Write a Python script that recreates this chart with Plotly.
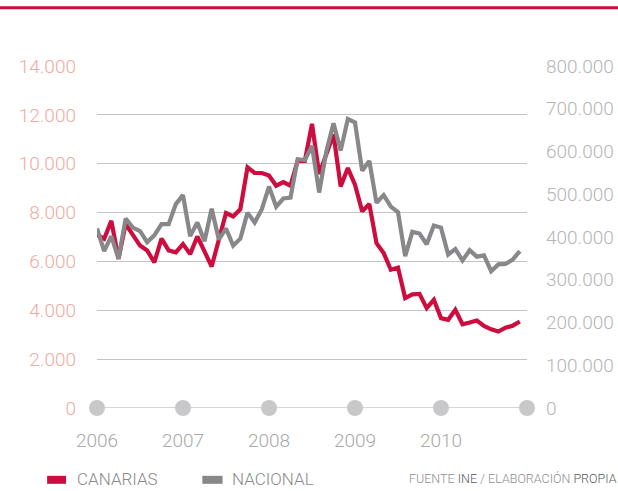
import plotly.graph_objects as go

# Monthly data, Jan 2006 - Dec 2010
months = [2006 + m / 12 for m in range(60)]

canarias = [7090, 6930, 7660, 6110, 7530, 7050, 6650, 6450, 5960, 6930, 6450, 6370,
            6710, 6300, 7020, 6410, 5790, 6890, 7980, 7840, 8140, 9850, 9620, 9620,
            9520, 9100, 9250, 9100, 10120, 10120, 11630, 9580, 10400, 11200, 9070, 9820,
            9140, 8050, 8350, 6750, 6340, 5660, 5750, 4500, 4650, 4670, 4090, 4430,
            3680, 3610, 4020, 3430, 3500, 3580, 3360, 3220, 3130, 3290, 3370, 3540]

nacional = [420000, 367000, 402000, 349000, 443000, 422000, 414000, 388000, 404000, 430000, 430000, 477000,
            498000, 402000, 434000, 390000, 466000, 394000, 420000, 380000, 396000, 457000, 434000, 465000,
            518000, 471000, 490000, 492000, 582000, 580000, 613000, 504000, 600000, 666000, 602000, 676000,
            668000, 555000, 578000, 480000, 498000, 471000, 458000, 355000, 412000, 408000, 383000, 427000,
            422000, 359000, 372000, 345000, 369000, 354000, 357000, 320000, 336000, 337000, 347000, 367000]

year_ticks = [2006, 2007, 2008, 2009, 2010]
year_labels = ["2006", "2007", "2008", "2009", "2010"]
dot_years = [2006, 2007, 2008, 2009, 2010, 2011]
series_names = ["CANARIAS", "NACIONAL"]

RED = "#cc0d3d"
GREY = "#88888b"
FONT = "Roboto"

fig = go.Figure()

# axis baseline with the year dots
fig.add_trace(go.Scatter(
    x=dot_years, y=[0] * len(dot_years),
    mode="lines+markers",
    line=dict(color="#c8c8ca", width=1.5),
    marker=dict(size=16, color="#c8c8ca"),
    cliponaxis=False, showlegend=False, hoverinfo="skip",
))

fig.add_trace(go.Scatter(
    x=months, y=nacional, yaxis="y2", name=series_names[1],
    mode="lines", line=dict(color=GREY, width=4.2),
    showlegend=False,
))
fig.add_trace(go.Scatter(
    x=months, y=canarias, name=series_names[0],
    mode="lines", line=dict(color=RED, width=4.2),
    showlegend=False,
))

# hand-made legend below the chart (plot area is 430 x 342 px)
legend_y = -0.21
text_bottom = -0.24
shapes = [
    dict(type="line", xref="paper", yref="paper",
         x0=-0.3, x1=1.3, y0=1.17, y1=1.17,
         line=dict(color=RED, width=3)),
    dict(type="line", xref="paper", yref="paper",
         x0=-0.116, x1=-0.072, y0=legend_y, y1=legend_y,
         line=dict(color=RED, width=8)),
    dict(type="line", xref="paper", yref="paper",
         x0=0.245, x1=0.292, y0=legend_y, y1=legend_y,
         line=dict(color=GREY, width=8)),
]

annotations = [
    dict(xref="paper", yref="paper", x=-0.048, y=text_bottom,
         xanchor="left", yanchor="bottom", showarrow=False, borderpad=0,
         text=series_names[0], font=dict(size=17, color="#8a8a8a")),
    dict(xref="paper", yref="paper", x=0.312, y=text_bottom,
         xanchor="left", yanchor="bottom", showarrow=False, borderpad=0,
         text=series_names[1], font=dict(size=17, color="#8a8a8a")),
    dict(xref="paper", yref="paper", x=0.722, y=-0.205,
         xanchor="left", yanchor="middle", showarrow=False,
         text="FUENTE <span style='color:#5a5a5a'>INE</span> / ELABORACIÓN <span style='color:#5a5a5a'>PROPIA</span>",
         font=dict(size=12.5, color="#8f8f8f")),
]

fig.update_layout(
    width=618, height=491,
    margin=dict(l=97, r=91, t=66, b=83),
    paper_bgcolor="white", plot_bgcolor="white",
    separators=",.",
    showlegend=False,
    font=dict(family=FONT, weight=300),
    xaxis=dict(
        range=[2006, 2011], tickvals=year_ticks, ticktext=year_labels,
        showgrid=False, zeroline=False, showline=False, automargin=False,
        tickfont=dict(size=19, color="#a8a8a8"),
        ticklabelstandoff=19,
    ),
    yaxis=dict(
        range=[0, 14000], dtick=2000, tickformat=",d",
        showgrid=True, gridcolor="#c4c4c4", gridwidth=1,
        zeroline=False, showline=False, automargin=False,
        tickfont=dict(size=19, color="#f0aaa0"),
        ticklabelstandoff=20,
    ),
    yaxis2=dict(
        range=[0, 800000], dtick=100000, tickformat=",d",
        overlaying="y", side="right",
        showgrid=False, zeroline=False, showline=False, automargin=False,
        tickfont=dict(size=19, color="#b5b5b5"),
        ticklabelstandoff=18,
    ),
    shapes=shapes,
    annotations=annotations,
)

# page body has a default 8px margin; drop it so the chart sits at 0,0
fig.write_html("out.html", config={"displayModeBar": False},
               post_script="document.body.style.margin='0';")
